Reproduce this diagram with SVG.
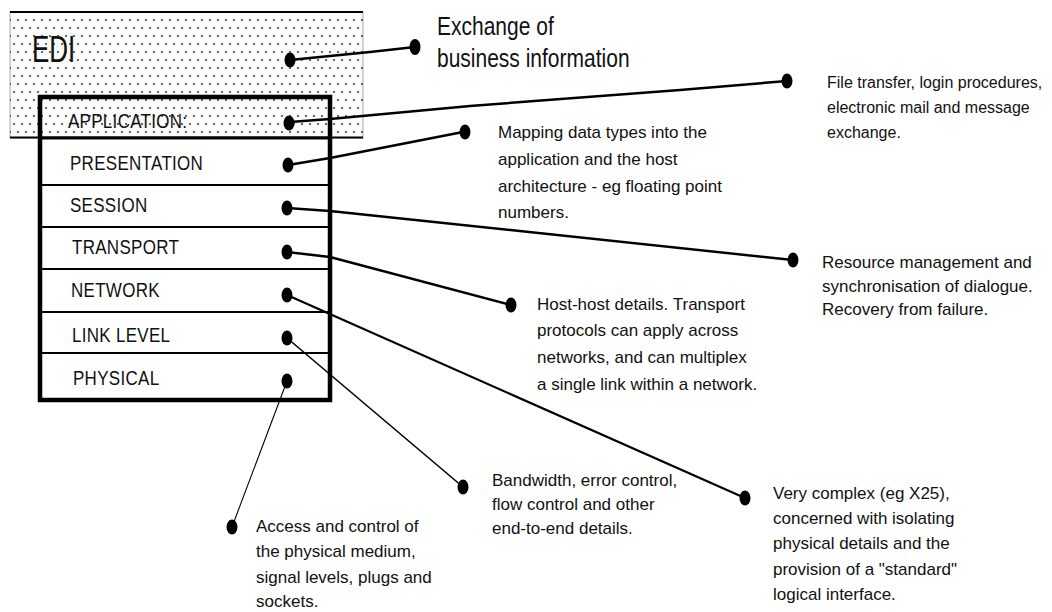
<svg xmlns="http://www.w3.org/2000/svg" width="1052" height="612" viewBox="0 0 1052 612">
<style>
.lbl{font-family:"Liberation Sans",Arial,sans-serif;font-size:17px;fill:#111;letter-spacing:0.3px}
.ann{font-family:"Liberation Sans",Arial,sans-serif;font-size:17px;fill:#111}
.big{font-family:"Liberation Sans",Arial,sans-serif;font-size:21px;fill:#111}
.conn{fill:none;stroke:#000;stroke-linecap:round;stroke-linejoin:round}
.dot{fill:#000}
.div{stroke:#000;stroke-width:2}
</style>
<defs>
<pattern id="dots" width="8" height="16" patternUnits="userSpaceOnUse">
<circle cx="2" cy="4" r="0.9" fill="#222"/>
<circle cx="6" cy="12" r="0.9" fill="#222"/>
</pattern>
</defs>
<rect width="1052" height="612" fill="#fff"/>

<g id="edi">
<rect x="10" y="12" width="353" height="126" fill="#fafafa" stroke="#aaa" stroke-width="1"/>
<rect x="10" y="12" width="353" height="126" fill="url(#dots)"/>
<line x1="10" y1="12" x2="363" y2="12" stroke="#000" stroke-width="2"/>
<line x1="10" y1="137.5" x2="363" y2="137.5" stroke="#000" stroke-width="2"/>
<text class="big" transform="translate(32,62) scale(1,1.45)" style="font-size:26px">EDI</text>
<ellipse class="dot" cx="290" cy="60" rx="5.5" ry="7.5"/>
</g>

<g id="layers">
<rect x="40" y="138" width="290" height="262" fill="#fff"/>
<rect x="40" y="97" width="290" height="303" fill="none" stroke="#000" stroke-width="4.5"/>
<line class="div" x1="40" y1="138" x2="330" y2="138" style="stroke-width:3"/>
<line class="div" x1="40" y1="185" x2="330" y2="185"/>
<line class="div" x1="40" y1="227" x2="330" y2="227"/>
<line class="div" x1="40" y1="269" x2="330" y2="269"/>
<line class="div" x1="40" y1="312" x2="330" y2="312"/>
<line class="div" x1="40" y1="353" x2="330" y2="353"/>
</g>

<g id="application"><text class="lbl" transform="translate(68,128) scale(1,1.15)">APPLICATION:</text><ellipse class="dot" cx="289" cy="123" rx="5.5" ry="7.5"/></g>
<g id="presentation"><text class="lbl" transform="translate(70,170) scale(1,1.15)">PRESENTATION</text><ellipse class="dot" cx="288" cy="165" rx="5.5" ry="7.5"/></g>
<g id="session"><text class="lbl" transform="translate(70,212) scale(1,1.15)">SESSION</text><ellipse class="dot" cx="287" cy="208" rx="5.5" ry="7.5"/></g>
<g id="transport"><text class="lbl" transform="translate(72,254) scale(1,1.15)">TRANSPORT</text><ellipse class="dot" cx="287" cy="252" rx="5.5" ry="7.5"/></g>
<g id="network"><text class="lbl" transform="translate(71,297) scale(1,1.15)">NETWORK</text><ellipse class="dot" cx="287" cy="295" rx="5.5" ry="7.5"/></g>
<g id="linklevel"><text class="lbl" transform="translate(72,342) scale(1,1.15)">LINK  LEVEL</text><ellipse class="dot" cx="287" cy="338" rx="5.5" ry="7.5"/></g>
<g id="physical"><text class="lbl" transform="translate(73,385) scale(1,1.15)">PHYSICAL</text><ellipse class="dot" cx="287" cy="381" rx="5.5" ry="7.5"/></g>

<g id="connectors">
<polyline class="conn" stroke-width="2.5" points="290,60 330,56 370,52 415,47"/>
<polyline class="conn" stroke-width="2.5" points="290,122 330,119 470,106 680,90 787,81"/>
<polyline class="conn" stroke-width="2.5" points="288,165 330,158 463,132"/>
<polyline class="conn" stroke-width="2.5" points="287,208 330,211 793,260"/>
<polyline class="conn" stroke-width="2.5" points="287,252 330,257 511,305"/>
<polyline class="conn" stroke-width="2.2" points="287,295 745,498"/>
<polyline class="conn" stroke-width="1.6" points="287,338 463,487"/>
<polyline class="conn" stroke-width="1.1" points="287,381 232,527"/>
</g>

<g id="ann-edi"><ellipse class="dot" cx="415" cy="47" rx="5.5" ry="8"/>
<text class="big" transform="translate(437,35) scale(1,1.25)">Exchange of</text>
<text class="big" transform="translate(437,67) scale(1,1.25)">business information</text></g>

<g id="ann-application"><ellipse class="dot" cx="787" cy="81" rx="5.5" ry="7.5"/>
<text class="ann" style="font-size:16px"><tspan x="827" y="88">File transfer, login procedures,</tspan><tspan x="827" y="113">electronic mail and message</tspan><tspan x="827" y="138">exchange.</tspan></text></g>

<g id="ann-presentation"><ellipse class="dot" cx="465" cy="132" rx="5.5" ry="7.5"/>
<text class="ann"><tspan x="498" y="138">Mapping data types into the</tspan><tspan x="498" y="165">application and the host</tspan><tspan x="498" y="192">architecture - eg floating point</tspan><tspan x="498" y="218">numbers.</tspan></text></g>

<g id="ann-session"><ellipse class="dot" cx="793" cy="260" rx="5.5" ry="7.5"/>
<text class="ann"><tspan x="822" y="268">Resource management and</tspan><tspan x="822" y="292">synchronisation of dialogue.</tspan><tspan x="822" y="315">Recovery from failure.</tspan></text></g>

<g id="ann-transport"><ellipse class="dot" cx="511" cy="305" rx="5.5" ry="7.5"/>
<text class="ann"><tspan x="537" y="310">Host-host details.  Transport</tspan><tspan x="537" y="336">protocols can apply across</tspan><tspan x="537" y="363">networks, and can multiplex</tspan><tspan x="537" y="390">a single link within a network.</tspan></text></g>

<g id="ann-network"><ellipse class="dot" cx="745" cy="498" rx="5.5" ry="7.5"/>
<text class="ann"><tspan x="773" y="499">Very complex (eg X25),</tspan><tspan x="773" y="524">concerned with isolating</tspan><tspan x="773" y="549">physical details and the</tspan><tspan x="773" y="575">provision of a "standard"</tspan><tspan x="773" y="600">logical interface.</tspan></text></g>

<g id="ann-linklevel"><ellipse class="dot" cx="463" cy="487" rx="5.5" ry="7.5"/>
<text class="ann"><tspan x="492" y="486">Bandwidth, error control,</tspan><tspan x="492" y="510">flow control and other</tspan><tspan x="492" y="534">end-to-end details.</tspan></text></g>

<g id="ann-physical"><ellipse class="dot" cx="232" cy="527" rx="5.5" ry="7.5"/>
<text class="ann"><tspan x="256" y="532">Access and control of</tspan><tspan x="256" y="557">the physical medium,</tspan><tspan x="256" y="583">signal levels, plugs and</tspan><tspan x="256" y="607">sockets.</tspan></text></g>
</svg>
